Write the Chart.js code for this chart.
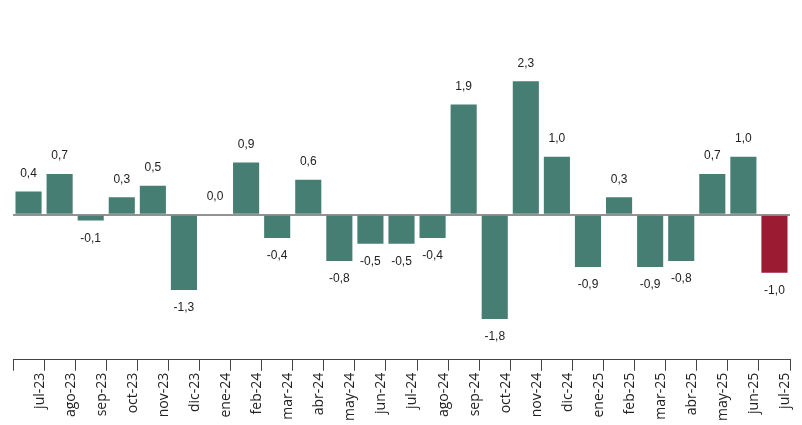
<!DOCTYPE html>
<html>
<head>
<meta charset="utf-8">
<script src="https://cdn.jsdelivr.net/npm/chart.js@4"></script>
<style>
  html, body { margin: 0; padding: 0; background: #fff; }
  #wrap { width: 802px; height: 425px; }
</style>
</head>
<body>
<div id="wrap"><canvas id="varChart"></canvas></div>
<script>
var months = [
  "jul-23", "ago-23", "sep-23", "oct-23", "nov-23", "dic-23", "ene-24",
  "feb-24", "mar-24", "abr-24", "may-24", "jun-24", "jul-24", "ago-24",
  "sep-24", "oct-24", "nov-24", "dic-24", "ene-25", "feb-25", "mar-25",
  "abr-25", "may-25", "jun-25", "jul-25"
];

var variation = [0.4, 0.7, -0.1, 0.3, 0.5, -1.3, 0.0, 0.9, -0.4, 0.6, -0.8, -0.5, -0.5, -0.4,
  1.9, -1.8, 2.3, 1.0, -0.9, 0.3, -0.9, -0.8, 0.7, 1.0, -1.0
];

var teal = '#477e74';
var red = '#9b1b33';

// value labels above positive bars, below negative ones
var valueLabels = {
  id: 'valueLabels',
  afterDatasetsDraw: function(chart) {
    var c = chart.ctx;
    var meta = chart.getDatasetMeta(0);
    c.save();
    c.font = '12px "Liberation Sans", Arial, sans-serif';
    c.fillStyle = '#222';
    c.textAlign = 'center';
    c.textBaseline = 'middle';
    meta.data.forEach(function(bar, i) {
      var v = variation[i];
      var txt = v.toFixed(1).replace('.', ',');
      var y = v < 0 ? bar.y + 18 : bar.y - 18;
      c.fillText(txt, bar.x, y);
    });
    c.restore();
  }
};

new Chart(document.getElementById('varChart').getContext('2d'), {
  type: 'bar',
  data: {
    labels: months,
    datasets: [{
      data: variation,
      backgroundColor: variation.map(function(v, i) { return i === variation.length - 1 ? red : teal; }),
      barPercentage: 0.84,
      categoryPercentage: 1.0
    }]
  },
  plugins: [valueLabels],
  options: {
    responsive: true,
    maintainAspectRatio: false,
    animation: false,
    layout: { padding: { left: 13, right: 12, top: 0, bottom: 2 } },
    plugins: {
      legend: { display: false },
      tooltip: { enabled: false }
    },
    scales: {
      x: {
        offset: true,
        grid: {
          offset: true,
          drawOnChartArea: false,
          drawTicks: true,
          tickLength: 11,
          color: '#444'
        },
        border: { display: true, color: '#444', width: 1 },
        ticks: {
          minRotation: 90,
          maxRotation: 90,
          autoSkip: false,
          labelOffset: 11,
          padding: 2,
          color: '#222',
          font: { family: '"Open Sans", sans-serif', size: 14 }
        }
      },
      y: {
        min: -2.5,
        max: 3.7,
        ticks: { display: false, stepSize: 0.1 },
        border: { display: false },
        grid: {
          z: 1,
          drawTicks: false,
          lineWidth: 2,
          color: function(ctx) {
            return ctx.tick && Math.abs(ctx.tick.value) < 1e-6 ? 'rgba(110,110,110,0.75)' : 'rgba(0,0,0,0)';
          }
        }
      }
    }
  }
});
</script>
</body>
</html>
